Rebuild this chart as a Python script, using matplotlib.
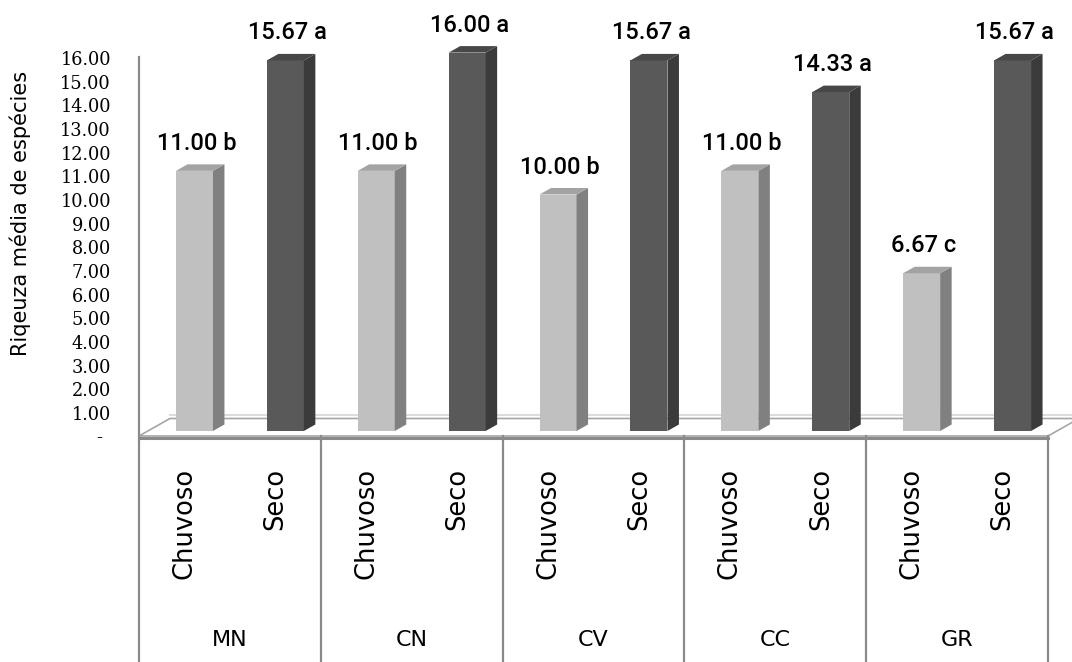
import numpy as np
import matplotlib
matplotlib.use("Agg")
from matplotlib import pyplot as plt
from matplotlib import transforms
from matplotlib.patches import Polygon

# Riqueza média de espécies por área e estação
GROUPS = ["MN", "CN", "CV", "CC", "GR"]
SEASONS = ["Chuvoso", "Seco"]
CHUVOSO = [11.00, 11.00, 10.00, 11.00, 6.67]
SECO = [15.67, 16.00, 15.67, 14.33, 15.67]
CHUVOSO_LETTERS = ["b", "b", "b", "b", "c"]
SECO_LETTERS = ["a", "a", "a", "a", "a"]
Y_TICKS = list(range(0, 17))

# colours: front, side, top of each bar
LIGHT = ("#c0c0c0", "#808080", "#a3a3a3")
DARK = ("#595959", "#3b3b3b", "#474747")
LINE = "#8a8a8a"

W, H, DPI = 1072, 662, 100
PX_X = 90.9    # pixels per category
PX_Y = 23.65   # pixels per unit of richness

fig = plt.figure(figsize=(W / DPI, H / DPI), dpi=DPI)
ax = fig.add_axes([139 / W, 0, 909 / W, 1])
ax.set_xlim(-0.5, 9.5)
ax.set_ylim(-231 / PX_Y, 431 / PX_Y)
ax.axis("off")

# fake 3d depth of the bars and of the floor
DX, DY = 11.5 / PX_X, 6.5 / PX_Y
FLOOR_FRONT = -5 / PX_Y
FLOOR_BACK = 12.5 / PX_Y
FLOOR_DX = 31 / PX_X

# interleave seasons inside each group
values, letters, colors = [], [], []
for c, s, lc, ls in zip(CHUVOSO, SECO, CHUVOSO_LETTERS, SECO_LETTERS):
    values += [c, s]
    letters += [lc, ls]
    colors += [LIGHT, DARK]
xcat = np.arange(len(values))
xbar = xcat + 10 / PX_X
width = 37 / PX_X

# floor
floor = Polygon([(-0.5, FLOOR_FRONT), (9.5, FLOOR_FRONT),
                 (9.5 + FLOOR_DX, FLOOR_BACK), (-0.5 + FLOOR_DX, FLOOR_BACK)],
                closed=True, facecolor="white", edgecolor="#a6a6a6", lw=1.2,
                clip_on=False, zorder=1)
ax.add_patch(floor)
ax.plot([-0.5 + FLOOR_DX, 9.5 + FLOOR_DX], [FLOOR_BACK + 4 / PX_Y] * 2,
        color="#dcdcdc", lw=1.5, clip_on=False, zorder=1)

# bars: front face from ax.bar, side and top as polygons
ax.bar(xbar, values, width=width, color=[c[0] for c in colors], zorder=3)
for x, v, col in zip(xbar, values, colors):
    xl, xr = x - width / 2, x + width / 2
    side = Polygon([(xr, 0), (xr + DX, DY), (xr + DX, v + DY), (xr, v)],
                   closed=True, facecolor=col[1], edgecolor="none", zorder=3)
    top = Polygon([(xl, v), (xr, v), (xr + DX, v + DY), (xl + DX, v + DY)],
                  closed=True, facecolor=col[2], edgecolor="none", zorder=3)
    ax.add_patch(side)
    ax.add_patch(top)

# value labels with the letters of the mean test
for x, v, l in zip(xbar, values, letters):
    ax.annotate(f"{v:.2f} {l}", xy=(x, v), xytext=(2, 21),
                textcoords="offset pixels", ha="center", va="baseline",
                fontsize=17, family="Roboto", fontweight="medium",
                color="black")

# front edge of the floor, value axis and category box
ax.plot([-0.5, 9.5], [FLOOR_FRONT - 1.5 / PX_Y] * 2, color=LINE, lw=2.2,
        clip_on=False, zorder=2)
ax.plot([-0.5, -0.5], [374 / PX_Y, -231 / PX_Y], color=LINE, lw=1.6,
        clip_on=False, zorder=2)
for k in range(1, len(GROUPS) + 1):
    xs = -0.5 + 2 * k
    ax.plot([xs, xs], [FLOOR_FRONT, -231 / PX_Y], color=LINE, lw=1.6,
            clip_on=False, zorder=2)

# value axis labels, drawn slightly below the bar scale like the 3d axis
shift = transforms.ScaledTranslation(0, -7.5 / DPI, fig.dpi_scale_trans)
for v in Y_TICKS:
    if v == 0:
        txt, dx = "-", -37
    else:
        txt, dx = f"{v:.2f}", -28
    off = transforms.ScaledTranslation(dx / DPI, 0, fig.dpi_scale_trans)
    ax.text(-0.5, v, txt, transform=ax.transData + shift + off,
            ha="right", va="center", fontsize=12.8, family="DejaVu Serif",
            color="black")

# two level category axis
for i in xcat:
    ax.text(i, -37 / PX_Y, SEASONS[i % 2], rotation=90, rotation_mode="anchor",
            ha="right", va="center", fontsize=18.5, family="DejaVu Sans")
for g, name in enumerate(GROUPS):
    ax.text(2 * g + 0.5, -209 / PX_Y, name, ha="center", va="center",
            fontsize=16, family="DejaVu Sans")

fig.text(20 / W, 1 - 213 / H, "Riqeuza média de espécies", rotation=90,
         ha="center", va="center", fontsize=15, family="DejaVu Sans")

fig.savefig("out.png", dpi=DPI, facecolor="white")
